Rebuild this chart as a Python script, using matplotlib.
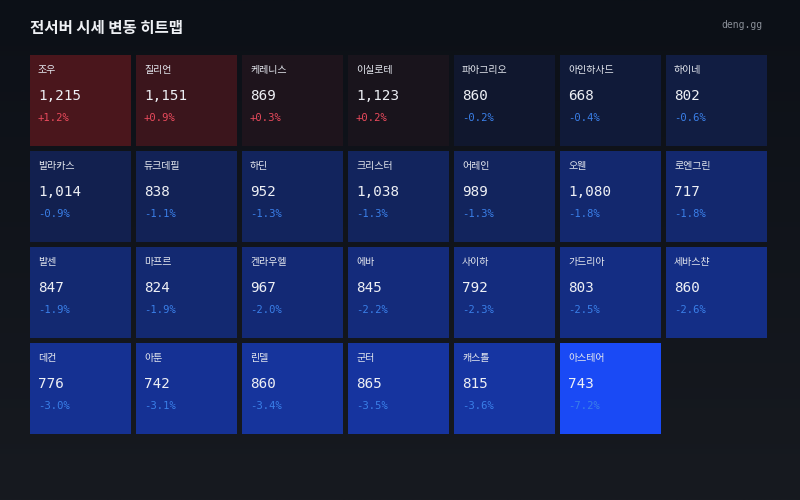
import numpy as np
import matplotlib.pyplot as plt
from matplotlib.colors import to_rgb

plt.rcParams['font.family'] = ['Noto Sans CJK KR', 'DejaVu Sans']

# data: server name, price, change %
names = ['조우', '질리언', '케레니스', '이실로테', '파아그리오', '아인하사드', '하이네',
         '발라카스', '듀크데필', '하딘', '크리스터', '어레인', '오웬', '로엔그린',
         '발센', '마프르', '켄라우헬', '에바', '사이하', '가드리아', '세바스챤',
         '데컨', '아툰', '린델', '군터', '캐스톨', '아스테어']
prices = [1215, 1151, 869, 1123, 860, 668, 802,
          1014, 838, 952, 1038, 989, 1080, 717,
          847, 824, 967, 845, 792, 803, 860,
          776, 742, 860, 865, 815, 743]
changes = [1.2, 0.9, 0.3, 0.2, -0.2, -0.4, -0.6,
           -0.9, -1.1, -1.3, -1.3, -1.3, -1.8, -1.8,
           -1.9, -1.9, -2.0, -2.2, -2.3, -2.5, -2.6,
           -3.0, -3.1, -3.4, -3.5, -3.6, -7.2]

ncols = 7
base = np.array(to_rgb('#0f131c'))
red_full = np.array(to_rgb('#4a161c'))
blue_full = np.array(to_rgb('#1a4af5'))
max_up = max(c for c in changes if c > 0)
max_dn = -min(c for c in changes if c < 0)


def tile_color(c):
    if c >= 0:
        t = c / max_up
        return base + t * (red_full - base)
    t = (-c / max_dn) ** 0.7
    return base + t * (blue_full - base)


W, H = 800, 500
fig = plt.figure(figsize=(8, 5), dpi=100)

# background gradient
bg = fig.add_axes([0, 0, 1, 1])
top = np.array(to_rgb('#0c1017'))
bot = np.array(to_rgb('#171a20'))
grad = np.linspace(0, 1, 256)[:, None, None] * (bot - top) + top
bg.imshow(np.repeat(grad, 2, axis=1), aspect='auto', extent=[0, W, H, 0])
bg.set_xlim(0, W)
bg.set_ylim(H, 0)
bg.axis('off')

bg.text(30, 28, '전서버 시세 변동 히트맵', color='#eef0f4', fontsize=11.2,
        fontweight='bold', va='center', ha='left')
bg.text(762, 25, 'deng.gg', color='#8a8f98', fontsize=7, family='DejaVu Sans Mono',
        va='center', ha='right')

# tile grid
pitch_x, pitch_y = 106, 96
tw, th = 101 / pitch_x, 91 / pitch_y
left, topy = 30, 55
gw, gh = 7 * pitch_x - 5, 4 * pitch_y - 5
ax = fig.add_axes([left / W, 1 - (topy + gh) / H, gw / W, gh / H])
ax.set_xlim(0, 6 + tw)
ax.set_ylim(3 + th, 0)
ax.axis('off')

cols = [i % ncols for i in range(len(names))]
rows = [i // ncols for i in range(len(names))]
ax.bar(cols, th, width=tw, bottom=rows, align='edge',
       color=[tile_color(c) for c in changes], linewidth=0)

px = 1 / pitch_x
py = 1 / pitch_y
for n, p, c, x, y in zip(names, prices, changes, cols, rows):
    ax.text(x + 8 * px, y + 15 * py, n, color='#e4e7ee', fontsize=7.2,
            fontweight='medium', va='center', ha='left')
    ax.text(x + 8 * px, y + 41 * py, f'{p:,}', color='#eef0f5', fontsize=10.3,
            family='DejaVu Sans Mono', va='center', ha='left')
    ax.text(x + 8 * px, y + 63 * py, f'{c:+.1f}%',
            color='#e94a5c' if c > 0 else '#3a7fe8', fontsize=7.6,
            family='DejaVu Sans Mono', va='center', ha='left')

fig.savefig('out.png', dpi=100)
